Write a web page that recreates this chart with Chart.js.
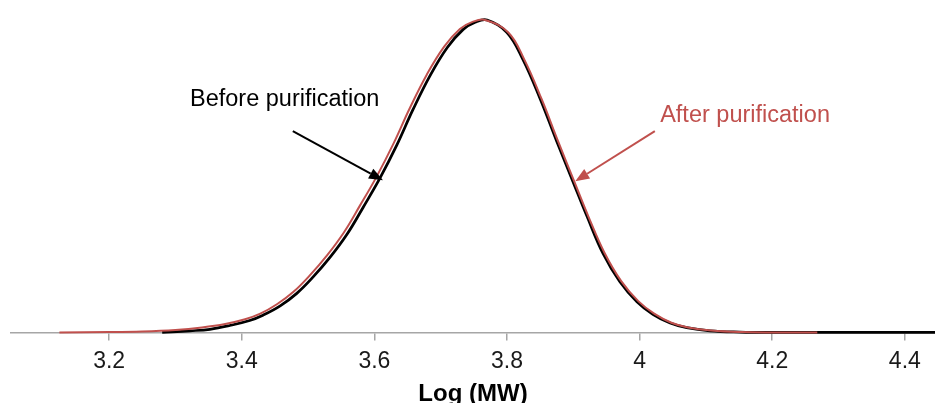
<!DOCTYPE html>
<html>
<head>
<meta charset="utf-8">
<script src="https://cdn.jsdelivr.net/npm/chart.js@4.4.1/dist/chart.umd.min.js"></script>
<style>
  html, body { margin: 0; padding: 0; background: #fff; overflow: hidden; }
  #wrap { position: relative; width: 935px; height: 406px; }
</style>
</head>
<body>
<div id="wrap"><canvas id="chart"></canvas></div>
<script>
    // Log (MW) vs normalised distribution height
    const beforeX = [3.280, 3.322, 3.352, 3.382, 3.412, 3.432, 3.458, 3.483, 3.507, 3.533, 3.559, 3.583,
        3.608, 3.634, 3.658, 3.684, 3.710, 3.734, 3.752, 3.770, 3.800, 3.824, 3.850, 3.875, 3.900,
        3.921, 3.945, 3.970, 3.996, 4.020, 4.046, 4.071, 4.106, 4.151, 4.200, 4.450];
    const beforeY = [0, 0.005, 0.010, 0.022, 0.038, 0.055, 0.085, 0.125, 0.176, 0.240, 0.315, 0.400,
        0.492, 0.600, 0.712, 0.822, 0.912, 0.970, 0.993, 1.0, 0.960, 0.874, 0.748, 0.612, 0.480,
        0.370, 0.252, 0.163, 0.098, 0.058, 0.030, 0.015, 0.005, 0.001, 0, 0];

    const afterX = [3.125, 3.200, 3.250, 3.300, 3.340, 3.375, 3.405, 3.428, 3.453, 3.478, 3.502, 3.528,
        3.554, 3.578, 3.603, 3.629, 3.653, 3.679, 3.705, 3.729, 3.748, 3.767, 3.802, 3.826, 3.852,
        3.877, 3.902, 3.923, 3.947, 3.972, 3.998, 4.022, 4.048, 4.073, 4.108, 4.153, 4.200, 4.268];
    const afterY = [0, 0.001, 0.003, 0.008, 0.016, 0.027, 0.042, 0.060, 0.090, 0.130, 0.181, 0.245,
        0.320, 0.405, 0.497, 0.605, 0.716, 0.825, 0.914, 0.971, 0.994, 1.0, 0.960, 0.874, 0.748,
        0.612, 0.480, 0.370, 0.255, 0.165, 0.100, 0.060, 0.031, 0.016, 0.006, 0.001, 0, 0];

    const tickValues = [3.2, 3.4, 3.6, 3.8, 4, 4.2, 4.4];

    const BLACK = '#000000';
    const RED = '#c0504d';
    const FONT = '"Liberation Sans", Arial, sans-serif';

    // callouts: text anchor and arrow (start -> tip), in data units
    const callouts = [
        { text: 'Before purification', color: BLACK, tx: 3.322, ty: 0.724, x0: 3.477, y0: 0.644, x1: 3.613, y1: 0.487 },
        { text: 'After purification', color: RED, tx: 4.031, ty: 0.673, x0: 4.023, y0: 0.644, x1: 3.903, y1: 0.484 },
    ];

    const toPoints = (xs, ys) => xs.map((x, i) => ({ x, y: ys[i] }));

    const calloutPlugin = {
        id: 'callouts',
        afterDatasetsDraw(chart) {
            const { ctx, scales: { x, y } } = chart;
            ctx.save();
            for (const c of callouts) {
                const sx = x.getPixelForValue(c.x0), sy = y.getPixelForValue(c.y0);
                const ex = x.getPixelForValue(c.x1), ey = y.getPixelForValue(c.y1);
                const ang = Math.atan2(ey - sy, ex - sx);
                const headLen = 14, headW = 5.5;
                const bx = ex - headLen * Math.cos(ang), by = ey - headLen * Math.sin(ang);
                ctx.strokeStyle = c.color;
                ctx.fillStyle = c.color;
                ctx.lineWidth = 2;
                ctx.beginPath();
                ctx.moveTo(sx, sy);
                ctx.lineTo(bx, by);
                ctx.stroke();
                ctx.beginPath();
                ctx.moveTo(ex, ey);
                ctx.lineTo(bx + headW * Math.sin(ang), by - headW * Math.cos(ang));
                ctx.lineTo(bx - headW * Math.sin(ang), by + headW * Math.cos(ang));
                ctx.closePath();
                ctx.fill();

                ctx.font = '23.5px ' + FONT;
                ctx.textAlign = 'left';
                ctx.textBaseline = 'alphabetic';
                ctx.fillText(c.text, x.getPixelForValue(c.tx), y.getPixelForValue(c.ty));
            }
            ctx.restore();
        },
    };

    new Chart(document.getElementById('chart'), {
        type: 'line',
        data: {
            datasets: [
                {
                    label: 'After purification',
                    data: toPoints(afterX, afterY),
                    borderColor: RED,
                    borderWidth: 2,
                    pointRadius: 0,
                    tension: 0.4,
                    clip: false,
                    order: 0,
                },
                {
                    label: 'Before purification',
                    data: toPoints(beforeX, beforeY),
                    borderColor: BLACK,
                    borderWidth: 2.75,
                    pointRadius: 0,
                    tension: 0.4,
                    clip: false,
                    order: 1,
                },
            ],
        },
        options: {
            animation: false,
            responsive: true,
            maintainAspectRatio: false,
            devicePixelRatio: 1,
            layout: { padding: { left: 11, right: 0, top: 0, bottom: 0 } },
            plugins: {
                legend: { display: false },
                tooltip: { enabled: false },
            },
            scales: {
                x: {
                    type: 'linear',
                    min: 3.052,
                    max: 4.4455,
                    afterBuildTicks: axis => { axis.ticks = tickValues.map(v => ({ value: v })); },
                    grid: {
                        display: true,
                        drawOnChartArea: false,
                        drawTicks: true,
                        tickLength: 8,
                        color: '#a6a6a6',
                        lineWidth: 1.5,
                    },
                    border: { display: true, color: '#a6a6a6', width: 1.5 },
                    ticks: {
                        padding: 7,
                        maxRotation: 0,
                        color: '#1a1a1a',
                        font: { family: FONT, size: 23 },
                        callback: v => String(v),
                    },
                    title: {
                        display: true,
                        text: 'Log (MW)',
                        color: '#000',
                        font: { family: FONT, size: 24, weight: 'bold', lineHeight: 1.0 },
                        padding: { top: 0, bottom: 0 },
                    },
                },
                y: {
                    display: false,
                    min: 0,
                    max: 1.064,
                },
            },
        },
        plugins: [calloutPlugin],
    });
</script>
</body>
</html>
